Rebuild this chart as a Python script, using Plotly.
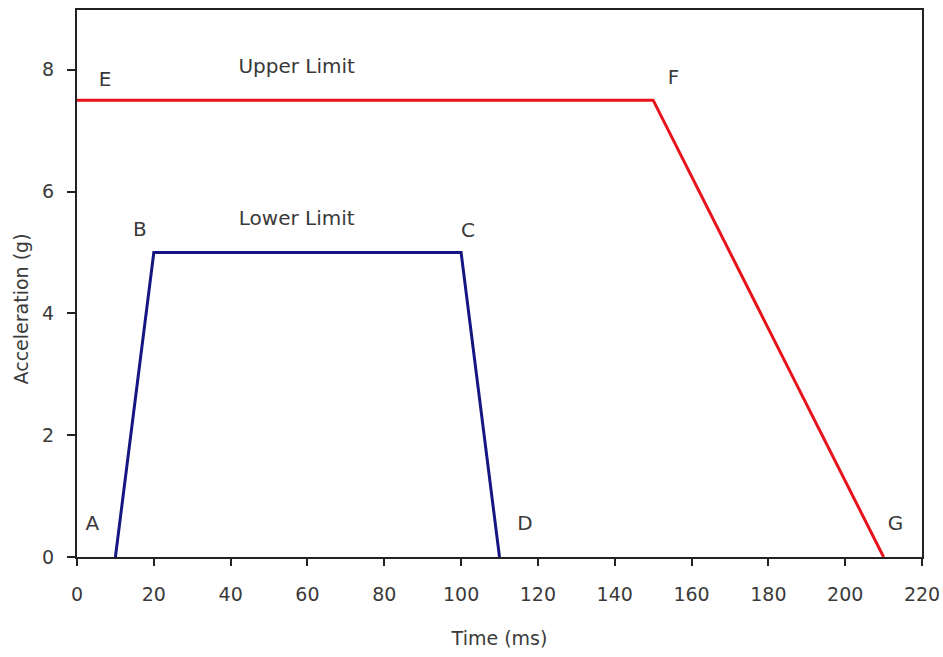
import plotly.graph_objects as go

# Data
upper_x = [0, 150, 210]
upper_y = [7.5, 7.5, 0]
lower_x = [10, 20, 100, 110]
lower_y = [0, 5, 5, 0]

point_labels = ["E", "F", "A", "B", "C", "D", "G"]
point_x = [7.3, 155.3, 4.0, 16.4, 101.8, 116.6, 213.1]
point_y = [7.82, 7.85, 0.53, 5.35, 5.34, 0.53, 0.53]

series_labels = ["Upper Limit", "Lower Limit"]
series_label_x = [57.2, 57.2]
series_label_y = [8.03, 5.53]

x_ticks = list(range(0, 221, 20))
y_ticks = [0, 2, 4, 6, 8]

FONT = "DejaVu Sans, Verdana, sans-serif"

fig = go.Figure()
fig.add_trace(go.Scatter(x=upper_x, y=upper_y, mode="lines",
                         line=dict(color="#e8121c", width=3), showlegend=False))
fig.add_trace(go.Scatter(x=lower_x, y=lower_y, mode="lines",
                         line=dict(color="#161683", width=3), showlegend=False))

fig.add_trace(go.Scatter(x=point_x, y=point_y, mode="text", text=point_labels,
                         textfont=dict(family=FONT, size=20, color="#3a3a3a"),
                         showlegend=False))
fig.add_trace(go.Scatter(x=series_label_x, y=series_label_y, mode="text", text=series_labels,
                         textfont=dict(family=FONT, size=20, color="#3a3a3a"),
                         showlegend=False))

fig.update_layout(
    width=943, height=657,
    margin=dict(l=77, r=21, t=10, b=100),
    plot_bgcolor="white", paper_bgcolor="white",
    font=dict(family=FONT, size=19, color="#3a3a3a"),
    annotations=[dict(text="Acceleration (g)", textangle=-90, xref="paper", yref="paper",
                      x=-0.066, y=0.453, xanchor="center", yanchor="middle", showarrow=False,
                      font=dict(family=FONT, size=19, color="#3a3a3a"))],
)
fig.update_xaxes(range=[0, 220], tickvals=x_ticks, showgrid=False, zeroline=False,
                 showline=True, linecolor="#222222", linewidth=2, mirror=True,
                 ticks="outside", ticklen=7, tickwidth=2, tickcolor="#222222",
                 ticklabelstandoff=12, automargin=False,
                 title=dict(text="Time (ms)", font=dict(family=FONT, size=19, color="#3a3a3a"), standoff=28))
fig.update_yaxes(range=[0, 8.98], tickvals=y_ticks, showgrid=False, zeroline=False,
                 showline=True, linecolor="#222222", linewidth=2, mirror=True,
                 ticks="outside", ticklen=8, tickwidth=2, tickcolor="#222222",
                 ticklabelstandoff=9, automargin=False)

fig.write_html("out.html", config={"displayModeBar": False},
               post_script="document.body.style.margin='0';document.body.style.overflow='hidden';")
